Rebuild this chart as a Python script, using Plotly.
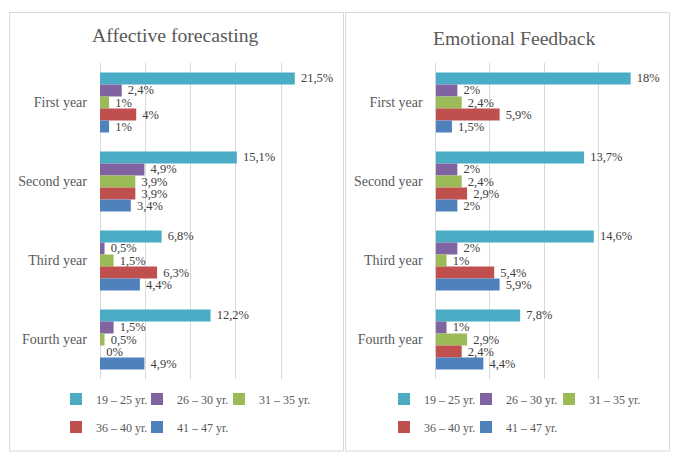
import plotly.graph_objects as go

years = ["First year", "Second year", "Third year", "Fourth year"]
groups = ["19 – 25 yr.", "26 – 30 yr.", "31 – 35 yr.", "36 – 40 yr.", "41 – 47 yr."]
colors = ["#4BACC6", "#8064A2", "#9BBB59", "#C0504D", "#4F81BD"]

# values per age group, across years (First..Fourth)
affective = {
    "19 – 25 yr.": [21.5, 15.1, 6.8, 12.2],
    "26 – 30 yr.": [2.4, 4.9, 0.5, 1.5],
    "31 – 35 yr.": [1, 3.9, 1.5, 0.5],
    "36 – 40 yr.": [4, 3.9, 6.3, 0],
    "41 – 47 yr.": [1, 3.4, 4.4, 4.9],
}
emotional = {
    "19 – 25 yr.": [18, 13.7, 14.6, 7.8],
    "26 – 30 yr.": [2, 2, 2, 1],
    "31 – 35 yr.": [2.4, 2.4, 1, 2.9],
    "36 – 40 yr.": [5.9, 2.9, 5.4, 2.4],
    "41 – 47 yr.": [1.5, 2, 5.9, 4.4],
}

W, H = 677, 462
FONT = "Liberation Serif"
TXT = "#404040"
LBL = "#595959"


def lab(v):
    return "\u00a0" + f"{v:g}".replace(".", ",") + "%"


def px(x):
    return x / W


def py(y):
    return 1 - y / H


# legend item anchor positions (left px, centre y px) for each group per panel
leg_pos = [
    [(56, 399), (137, 399), (219, 399), (56, 427), (137, 427)],
    [(384, 399), (466, 399), (549, 399), (384, 427), (466, 427)],
]

fig = go.Figure()
legends = {}
leg_common = dict(orientation="h", font=dict(family=FONT, size=12, color=LBL),
                  itemwidth=30, bgcolor="rgba(0,0,0,0)", xanchor="left",
                  yanchor="middle", itemclick=False, itemdoubleclick=False,
                  borderwidth=0)

n = 0
for panel, data, xa, ya in [(0, affective, "x", "y"), (1, emotional, "x2", "y2")]:
    for i, g in enumerate(groups):
        n += 1
        lname = "legend" if n == 1 else f"legend{n}"
        vals = data[g]
        fig.add_trace(go.Bar(
            y=years, x=vals, orientation="h", name=g,
            marker=dict(color=colors[i], line=dict(width=0)),
            text=[lab(v) for v in vals], textposition="outside",
            textfont=dict(family=FONT, size=12.5, color=TXT),
            constraintext="none", cliponaxis=False,
            xaxis=xa, yaxis=ya, legend=lname, hoverinfo="skip",
        ))
        lx, ly = leg_pos[panel][i]
        legends[lname] = dict(x=px(lx), y=py(ly), **leg_common)

grid = "#D9D9D9"
ax_common = dict(showticklabels=False, showgrid=True, gridcolor=grid, gridwidth=1,
                 zeroline=True, zerolinecolor=grid, zerolinewidth=1, dtick=5,
                 ticks="", showline=False, fixedrange=True)
ay_common = dict(autorange="reversed", showgrid=False, zeroline=False, ticks="",
                 showline=False, ticklabelstandoff=12, fixedrange=True,
                 tickfont=dict(family=FONT, size=14, color=LBL),
                 domain=[py(379), py(63)])

fig.update_layout(
    width=W, height=H,
    margin=dict(l=0, r=0, t=0, b=0, autoexpand=False),
    paper_bgcolor="white", plot_bgcolor="white",
    barmode="group", bargap=0.24, bargroupgap=0,
    showlegend=True,
    xaxis=dict(domain=[px(100), px(326.5)], range=[0, 25], anchor="y", **ax_common),
    yaxis=dict(anchor="x", **ay_common),
    xaxis2=dict(domain=[px(435.7), px(652.3)], range=[0, 20], anchor="y2", **ax_common),
    yaxis2=dict(anchor="x2", **ay_common),
    annotations=[
        dict(text="Affective forecasting", x=px(175.5), y=py(35.5), xref="paper", yref="paper",
             showarrow=False, xanchor="center", yanchor="middle",
             font=dict(family=FONT, size=19.7, color=LBL)),
        dict(text="Emotional Feedback", x=px(514), y=py(37.5), xref="paper", yref="paper",
             showarrow=False, xanchor="center", yanchor="middle",
             font=dict(family=FONT, size=19.7, color=LBL)),
    ],
    shapes=[
        dict(type="rect", xref="paper", yref="paper", x0=px(9.5), x1=px(343.5),
             y0=py(451), y1=py(12.5), line=dict(color="#D9D9D9", width=1)),
        dict(type="rect", xref="paper", yref="paper", x0=px(345.5), x1=px(669.5),
             y0=py(451), y1=py(12.5), line=dict(color="#D9D9D9", width=1)),
    ],
    **legends,
)

fig.write_html("out.html", config={"displayModeBar": False},
               post_script="document.body.style.margin='0';document.body.style.overflow='hidden';")
